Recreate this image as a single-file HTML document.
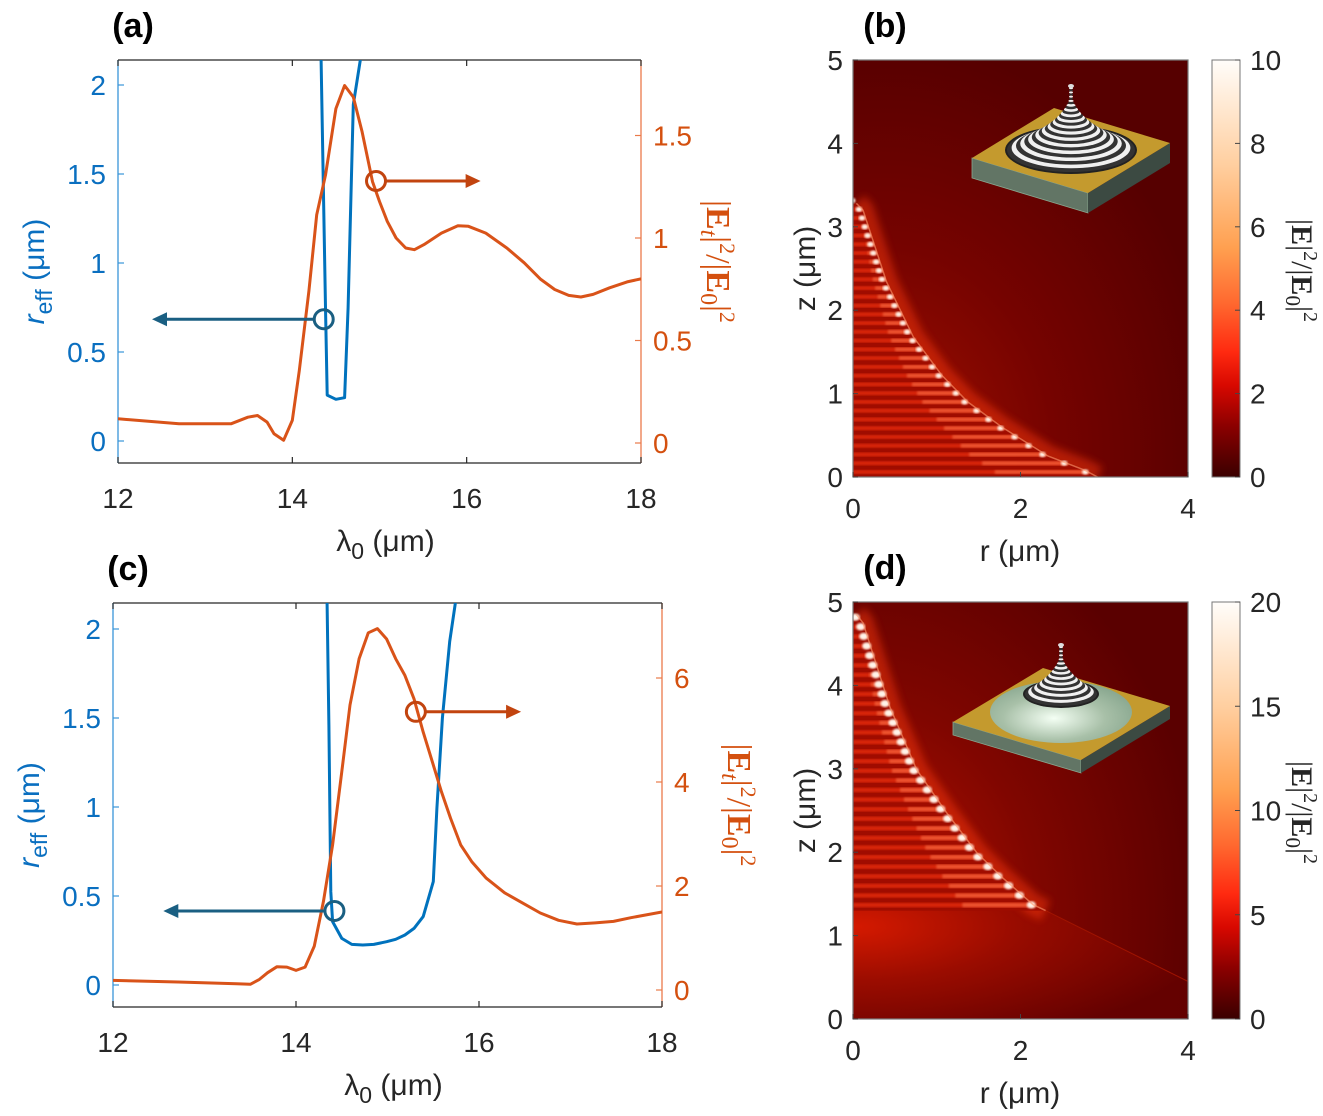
<!DOCTYPE html>
<html><head><meta charset="utf-8"><title>Figure</title>
<style>
html,body{margin:0;padding:0;background:#fff;}
svg{display:block;font-family:"Liberation Sans",Arial,sans-serif;}
</style></head>
<body>
<svg id="fig" width="1323" height="1116" viewBox="0 0 1323 1116" xmlns="http://www.w3.org/2000/svg">
<defs>
  <clipPath id="clipA"><rect x="118" y="60" width="523" height="403"/></clipPath>
  <clipPath id="clipC"><rect x="113" y="603" width="549" height="404"/></clipPath>
  <clipPath id="clipB"><rect x="853" y="60" width="335" height="417"/></clipPath>
  <clipPath id="clipD"><rect x="853" y="602" width="335" height="417"/></clipPath>
  <linearGradient id="cbar" x1="0" y1="1" x2="0" y2="0">
    <stop offset="0" stop-color="#3a0000"/><stop offset="0.12" stop-color="#8a0000"/>
    <stop offset="0.22" stop-color="#d80800"/><stop offset="0.3" stop-color="#ff2a10"/>
    <stop offset="0.42" stop-color="#ff6a30"/><stop offset="0.55" stop-color="#ffa050"/>
    <stop offset="0.75" stop-color="#ffcfa0"/><stop offset="1" stop-color="#fffdfa"/>
  </linearGradient>
  <radialGradient id="bgB" cx="0.1" cy="0.95" r="1.0">
    <stop offset="0" stop-color="#a01000"/><stop offset="0.5" stop-color="#760300"/><stop offset="1" stop-color="#560000"/>
  </radialGradient>
  <radialGradient id="bgD" cx="0.05" cy="0.75" r="1.0">
    <stop offset="0" stop-color="#b81400"/><stop offset="0.5" stop-color="#800600"/><stop offset="1" stop-color="#5a0000"/>
  </radialGradient>
  <radialGradient id="lowD" cx="0" cy="0.15" r="1.1">
    <stop offset="0" stop-color="#d81a00"/><stop offset="0.45" stop-color="#9a0c00"/><stop offset="1" stop-color="#640100"/>
  </radialGradient>
  <filter id="blur4"><feGaussianBlur stdDeviation="4"/></filter>
  <filter id="blur1"><feGaussianBlur stdDeviation="1"/></filter>
  <radialGradient id="paleDisk" cx="0.45" cy="0.6" r="0.6">
    <stop offset="0" stop-color="#f4fff4"/><stop offset="0.6" stop-color="#a8c0a8"/><stop offset="1" stop-color="#8aa890"/>
  </radialGradient>
</defs>
<g id="root"></g>
</svg>
<script>
// ---------- data: panel (a) ----------
const aRedL = [12,12.7,13.3,13.49,13.6,13.71,13.79,13.9,14.0,14.08,14.19,14.28,14.38,14.5,14.6,14.7,14.8,14.92,15.0,15.09,15.19,15.3,15.4,15.51,15.71,15.9,16.02,16.22,16.46,16.66,16.85,17.01,17.17,17.31,17.45,17.64,17.84,18];
const aRedV = [0.118,0.094,0.094,0.126,0.134,0.102,0.045,0.013,0.11,0.353,0.741,1.113,1.307,1.631,1.744,1.688,1.518,1.275,1.178,1.081,1.0,0.951,0.943,0.968,1.024,1.06,1.057,1.024,0.951,0.879,0.798,0.749,0.72,0.712,0.725,0.757,0.786,0.801];
const aBlueL = [14.30,14.33,14.38,14.40,14.50,14.60,14.64,14.70,14.78,14.85];
const aBlueV = [3.0,2.14,0.749,0.258,0.234,0.243,0.749,1.89,2.14,2.5];
const aMarkers = [14.36,0.684,12.39, 14.96,1.278,16.16];
// ---------- data: panel (c) ----------
const cRedL = [12,12.71,13.35,13.5,13.6,13.69,13.79,13.9,14.0,14.1,14.2,14.3,14.4,14.5,14.59,14.69,14.79,14.89,14.99,15.09,15.19,15.29,15.39,15.49,15.59,15.69,15.8,15.92,16.08,16.28,16.48,16.67,16.87,17.07,17.27,17.47,17.66,18];
const cRedV = [0.185,0.153,0.122,0.109,0.204,0.332,0.447,0.441,0.377,0.441,0.844,1.71,2.79,4.2,5.48,6.37,6.87,6.95,6.75,6.37,6.05,5.6,4.96,4.39,3.81,3.3,2.79,2.47,2.15,1.87,1.67,1.48,1.34,1.27,1.29,1.32,1.39,1.5];
const cBlueL = [14.32,14.34,14.36,14.38,14.4,14.5,14.61,14.73,14.85,14.99,15.09,15.19,15.29,15.39,15.5,15.54,15.6,15.68,15.74,15.8];
const cBlueV = [2.5,2.14,1.46,0.524,0.356,0.262,0.228,0.225,0.228,0.243,0.257,0.281,0.318,0.384,0.581,0.993,1.5,1.93,2.14,2.5];
const cMarkers = [14.42,0.416,12.55, 15.31,5.35,16.46];
// ---------- ticks ----------
const xTicks = [12,14,16,18];
const aLeftTicks = [0,0.5,1,1.5,2];
const aRightTicks = [0,0.5,1,1.5];
const cLeftTicks = [0,0.5,1,1.5,2];
const cRightTicks = [0,2,4,6];
const rTicks = [0,2,4];
const zTicks = [0,1,2,3,4,5];
const cbarBTicks = [0,2,4,6,8,10];
const cbarDTicks = [0,5,10,15,20];
// ---------- heatmap surface curves ----------
const bCurveR = [0.04,0.12,0.4,0.72,1.06,1.37,1.79,2.33,2.77,2.92];
const bCurveZ = [3.28,3.2,2.34,1.68,1.22,0.9,0.59,0.25,0.08,0.0];
const dCurveR = [0.04,0.12,0.44,0.76,1.12,1.48,1.79,2.15,2.3];
const dCurveZ = [4.85,4.75,3.74,2.99,2.47,1.99,1.69,1.37,1.3];

const NS = "http://www.w3.org/2000/svg";
const root = document.getElementById('root');
function mk(tag, attrs, parent){
  const e = document.createElementNS(NS, tag);
  for (const k in attrs) e.setAttribute(k, attrs[k]);
  (parent||root).appendChild(e);
  return e;
}
function txt(s, x, y, size, color, anchor, parent){
  const t = mk('text', {x:x, y:y, 'font-size':size, fill:color, 'text-anchor':anchor||'middle'}, parent);
  t.textContent = s;
  return t;
}
function interp(xs, ys, x){
  for (let i=0;i<xs.length-1;i++){ if (x>=xs[i] && x<=xs[i+1]) return ys[i]+(ys[i+1]-ys[i])*(x-xs[i])/(xs[i+1]-xs[i]); }
  return ys[ys.length-1];
}

function linePanel(p){
  const g = mk('g', {});
  
  
  const xs = l => p.x0 + (l-12)/6*(p.x1-p.x0);
  const yL = v => p.yL0 - v*p.yLs;
  const yR = v => p.yR0 - v*p.yRs;
  const top = mk('line', {x1:p.x0,y1:p.y0,x2:p.x1,y2:p.y0,stroke:'#262626','stroke-width':1.3}, g);
  
  
  const bot = mk('line', {x1:p.x0,y1:p.y1,x2:p.x1,y2:p.y1,stroke:'#262626','stroke-width':1.3}, g);
  
  
  const la = mk('line', {x1:p.x0,y1:p.y0,x2:p.x0,y2:p.y1,stroke:'#3a95d8','stroke-width':1.3}, g);
  
  
  const ra = mk('line', {x1:p.x1,y1:p.y0,x2:p.x1,y2:p.y1,stroke:'#ea7a4a','stroke-width':1.3}, g);
  
  
  xTicks.forEach(t => {
    const x = xs(t);
    mk('line', {x1:x,y1:p.y1,x2:x,y2:p.y1-6,stroke:'#262626','stroke-width':1.2}, g);
    mk('line', {x1:x,y1:p.y0,x2:x,y2:p.y0+6,stroke:'#262626','stroke-width':1.2}, g);
    const tl = txt(String(t), x, p.y1+45, 28, '#262626', 'middle', g);
    
    
  });
  p.lt.forEach(t => {
    const y = yL(t);
    mk('line', {x1:p.x0,y1:y,x2:p.x0+6,y2:y,stroke:'#3a95d8','stroke-width':1.2}, g);
    const tl = txt(String(t), p.x0-12, y+10, 28, '#0a6fc0', 'end', g);
    
    
  });
  p.rt.forEach(t => {
    const y = yR(t);
    mk('line', {x1:p.x1,y1:y,x2:p.x1-6,y2:y,stroke:'#ea7a4a','stroke-width':1.2}, g);
    const tl = txt(String(t), p.x1+12, y+10, 28, '#d4500f', 'start', g);
    
    
  });
  const cg = mk('g', {'clip-path':'url(#'+p.clip+')'}, g);
  const bpts = p.bL.map((l,i)=> xs(l).toFixed(1)+','+yL(p.bV[i]).toFixed(1)).join(' ');
  const bl = mk('polyline', {points:bpts, fill:'none', stroke:'#0072bd','stroke-width':3,'stroke-linejoin':'round'}, cg);
  
  
  const rpts = p.rL.map((l,i)=> xs(l).toFixed(1)+','+yR(p.rV[i]).toFixed(1)).join(' ');
  const rl = mk('polyline', {points:rpts, fill:'none', stroke:'#d95319','stroke-width':3,'stroke-linejoin':'round'}, cg);
  
  
  const m = p.m;
  const bx = xs(m[0]), by = yL(m[1]), bt = xs(m[2]);
  const ba = mk('g', {}, g);
  
  
  mk('line', {x1:bx-10,y1:by,x2:bt+12,y2:by,stroke:'#1a5f82','stroke-width':3}, ba);
  mk('polygon', {points:`${bt},${by} ${bt+15},${by-7} ${bt+15},${by+7}`, fill:'#1a5f82'}, ba);
  mk('circle', {cx:bx,cy:by,r:9.5,fill:'none',stroke:'#1a5f82','stroke-width':3}, ba);
  const rx = xs(m[3]), ry = yR(m[4]), rt = xs(m[5]);
  const raw = mk('g', {}, g);
  
  
  mk('line', {x1:rx+10,y1:ry,x2:rt-12,y2:ry,stroke:'#c2440f','stroke-width':3}, raw);
  mk('polygon', {points:`${rt},${ry} ${rt-15},${ry-7} ${rt-15},${ry+7}`, fill:'#c2440f'}, raw);
  mk('circle', {cx:rx,cy:ry,r:9.5,fill:'none',stroke:'#c2440f','stroke-width':3}, raw);
  const xl = mk('text', {x:(p.x0+p.x1)/2+6, y:p.y1+88, 'font-size':30, fill:'#262626','text-anchor':'middle'}, g);
  xl.innerHTML = 'λ<tspan dy="8" font-size="23">0</tspan><tspan dy="-8"> (μm)</tspan>';
  
  
  const cy = (p.y0+p.y1)/2;
  const yl = mk('text', {x:0, y:0, 'font-size':30, fill:'#0a6fc0','text-anchor':'middle', transform:`translate(${p.x0-74},${cy+10}) rotate(-90)`}, g);
  yl.innerHTML = '<tspan font-style="italic">r</tspan><tspan dy="8" font-size="23">eff</tspan><tspan dy="-8"> (μm)</tspan>';
  
  
  const rlb = mk('text', {x:0, y:0, 'font-size':34, fill:'#d4500f','text-anchor':'middle','font-family':'"Liberation Serif",serif', transform:`translate(${p.x1+66},${cy}) rotate(90)`}, g);
  rlb.innerHTML = '|<tspan font-weight="bold">E</tspan><tspan font-style="italic" font-size="24" dy="6">t</tspan><tspan dy="-6">|</tspan><tspan font-size="22" dy="-13">2</tspan><tspan dy="13">/|</tspan><tspan font-weight="bold">E</tspan><tspan font-size="24" dy="6">0</tspan><tspan dy="-6">|</tspan><tspan font-size="22" dy="-13">2</tspan>';
  
  
  const pl = txt(p.label, p.x0+15, p.y0-23, 34, '#000', 'middle', g);
  pl.setAttribute('font-weight', 'bold');
  
  
}

linePanel({name:'panel-a-chart', label:'(a)', x0:118,x1:641,y0:60,y1:463, yL0:441,yLs:178, yR0:443,yRs:205,
  lt:aLeftTicks, rt:aRightTicks, bL:aBlueL,bV:aBlueV, rL:aRedL,rV:aRedV, m:aMarkers, clip:'clipA'});
linePanel({name:'panel-c-chart', label:'(c)', x0:113,x1:662,y0:603,y1:1007, yL0:985,yLs:178, yR0:990,yRs:52,
  lt:cLeftTicks, rt:cRightTicks, bL:cBlueL,bV:cBlueV, rL:cRedL,rV:cRedV, m:cMarkers, clip:'clipC'});

function cone(g, cx, baseY, rx, ry, apexY, n){
  for (let i=0;i<n;i++){
    const f = i/n;
    const r = rx*Math.pow(1-f, 2.2);
    const y = baseY - (baseY-apexY)*f;
    mk('ellipse', {cx:cx, cy:y, rx:Math.max(r,2), ry:Math.max(r*ry/rx,1), fill: i%2 ? '#f0f0f0' : '#333'}, g);
  }
  mk('ellipse', {cx:cx, cy:apexY, rx:3, ry:2, fill:'#ddd'}, g);
}

function heatPanel(p){
  const g = mk('g', {});
  
  
  const rS = r => 853 + r*83.75;
  const zS = z => p.y1 - z*83.4;
  const cg = mk('g', {'clip-path':'url(#'+p.clip+')'}, g);
  const bg = mk('rect', {x:853,y:p.y0,width:335,height:417,fill:'url(#'+p.bg+')'}, cg);
  
  
  const cr = p.cr, cz = p.cz;
  if (p.low){
    const lo = mk('path', {d:`M853 ${zS(cz[cz.length-1])} L${rS(cr[cr.length-1])} ${zS(cz[cz.length-1])} L1188 ${zS(0.45)} L1188 ${p.y1} L853 ${p.y1} Z`, fill:'url(#lowD)', opacity:0.9}, cg);
    
    
    mk('line', {x1:rS(cr[cr.length-1]),y1:zS(cz[cz.length-1]),x2:1188,y2:zS(0.45),stroke:'#a01400','stroke-width':1}, cg);
  }
  const curvePts = cr.map((r,i)=> rS(r).toFixed(1)+','+zS(cz[i]).toFixed(1)).join(' ');
  mk('polyline', {points:curvePts, fill:'none', stroke:'#ff3a10','stroke-width':22, opacity:0.45, filter:'url(#blur4)'}, cg);
  const zb = p.low ? cz[cz.length-1] : 0;
  let d = `M853 ${zS(zb)} L853 ${zS(cz[0])} `;
  cr.forEach((r,i)=>{ d += `L${rS(r).toFixed(1)} ${zS(cz[i]).toFixed(1)} `; });
  d += 'Z';
  const clipId = p.clip+'R';
  const cp = mk('clipPath', {id:clipId}, cg);
  mk('path', {d:d}, cp);
  const reg = mk('path', {d:d, fill:'#a00c00'}, cg);
  
  
  const sg = mk('g', {'clip-path':'url(#'+clipId+')'}, cg);
  for (let z = zb; z < cz[0]; z += p.step){
    const rEdge = interp(cz.slice().reverse(), cr.slice().reverse(), z+p.step/2);
    const y = zS(z+p.step*0.8);
    const w = rS(rEdge)-853;
    const band = mk('rect', {x:853, y:y, width:w, height:p.step*83.4*0.45, fill:'#f23010', opacity:0.7, filter:'url(#blur1)'}, sg);
    
    
    mk('rect', {x:853+w*0.6, y:y, width:w*0.4, height:p.step*83.4*0.45, fill:'#ff7a50', opacity:0.55, filter:'url(#blur1)'}, sg);
    mk('ellipse', {cx:rS(rEdge)-4, cy:y+2, rx:p.dot, ry:p.dot*0.8, fill:'#fff4ea', filter:'url(#blur1)'}, cg);
  }
  mk('polyline', {points:curvePts, fill:'none', stroke:'#ff9a70','stroke-width':1.5, opacity:0.6}, cg);
  const ins = mk('g', {}, g);
  
  
  const s = p.slab;
  mk('polygon', {points:`${s[0]},${s[1]} ${s[6]},${s[7]} ${s[6]},${s[7]+s[8]} ${s[0]},${s[1]+s[8]}`, fill:'#627565', stroke:'#8aa890','stroke-width':0.8}, ins);
  mk('polygon', {points:`${s[6]},${s[7]} ${s[4]},${s[5]} ${s[4]},${s[5]+s[8]} ${s[6]},${s[7]+s[8]}`, fill:'#3c4a42'}, ins);
  mk('polygon', {points:`${s[0]},${s[1]} ${s[2]},${s[3]} ${s[4]},${s[5]} ${s[6]},${s[7]}`, fill:'#c49a2e'}, ins);
  if (p.disk) mk('ellipse', {cx:p.disk[0],cy:p.disk[1],rx:p.disk[2],ry:p.disk[3],fill:'url(#paleDisk)'}, ins);
  mk('ellipse', {cx:p.cone[0],cy:p.cone[1],rx:p.cone[2]+2,ry:p.cone[3]+2,fill:'#222'}, ins);
  cone(ins, p.cone[0], p.cone[1], p.cone[2], p.cone[3], p.cone[4], p.cone[5]);
  mk('rect', {x:853,y:p.y0,width:335,height:417,fill:'none',stroke:'#777','stroke-width':1.2}, g);
  rTicks.forEach(t => {
    const x = rS(t);
    mk('line', {x1:x,y1:p.y1,x2:x,y2:p.y1-5,stroke:'#444','stroke-width':1}, g);
    const tl = txt(String(t), x, p.y1+41, 28, '#262626', 'middle', g);
    
    
  });
  zTicks.forEach(t => {
    const y = zS(t);
    mk('line', {x1:853,y1:y,x2:858,y2:y,stroke:'#444','stroke-width':1}, g);
    const tl = txt(String(t), 843, y+10, 28, '#262626', 'end', g);
    
    
  });
  const xl = txt('r (μm)', 1020, p.y1+84, 30, '#262626', 'middle', g);
  
  
  const yl = mk('text', {x:0,y:0,'font-size':30,fill:'#262626','text-anchor':'middle',transform:`translate(${815},${(p.y0+p.y1)/2}) rotate(-90)`}, g);
  yl.textContent = 'z (μm)';
  
  
  const cb = mk('rect', {x:1212,y:p.y0,width:28,height:417,fill:'url(#cbar)',stroke:'#777','stroke-width':1}, g);
  
  
  const maxv = p.cbt[p.cbt.length-1];
  p.cbt.forEach(t => {
    const y = p.y1 - t/maxv*417;
    mk('line', {x1:1235,y1:y,x2:1240,y2:y,stroke:'#444','stroke-width':1}, g);
    const tl = txt(String(t), 1250, y+10, 28, '#262626', 'start', g);
    
    
  });
  const cl = mk('text', {x:0,y:0,'font-size':30,fill:'#262626','text-anchor':'middle','font-family':'"Liberation Serif",serif',transform:`translate(1292,${(p.y0+p.y1)/2+2}) rotate(90)`}, g);
  cl.innerHTML = '|<tspan font-weight="bold">E</tspan>|<tspan font-size="20" dy="-12">2</tspan><tspan dy="12">/|</tspan><tspan font-weight="bold">E</tspan><tspan font-size="21" dy="6">0</tspan><tspan dy="-6">|</tspan><tspan font-size="20" dy="-12">2</tspan>';
  
  
  const pl = txt(p.label, 885, p.y0-23, 34, '#000', 'middle', g);
  pl.setAttribute('font-weight', 'bold');
  
  
}

heatPanel({name:'panel-b-field-map', label:'(b)', y0:60, y1:477, clip:'clipB', bg:'bgB', cr:bCurveR, cz:bCurveZ, step:0.105, dot:3.2, low:false,
  slab:[972,158,1054,108,1170,143,1088,193,20], cone:[1071,150,64,22,86,30], cbt:cbarBTicks});
heatPanel({name:'panel-d-field-map', label:'(d)', y0:602, y1:1019, clip:'clipD', bg:'bgD', cr:dCurveR, cz:dCurveZ, step:0.115, dot:4.5, low:true,
  slab:[953,722,1043,668,1170,706,1081,760,13], disk:[1061,712,71,31], cone:[1061,694,36,12,645,24], cbt:cbarDTicks});
</script>
</body></html>
